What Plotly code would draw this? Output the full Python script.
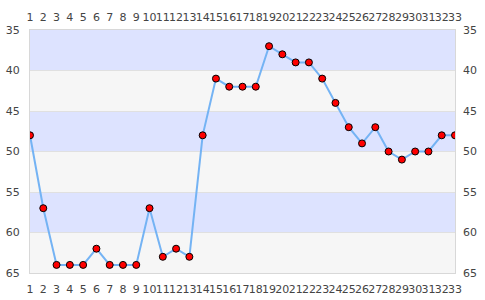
import plotly.graph_objects as go

x_vals = list(range(1, 34))
y_vals = [48, 57, 64, 64, 64, 62, 64, 64, 64, 57, 63, 62, 63, 48, 41, 42, 42, 42,
          37, 38, 39, 39, 41, 44, 47, 49, 47, 50, 51, 50, 50, 48, 48]
y_ticks = [35, 40, 45, 50, 55, 60, 65]
band_edges = [(35, 40, "#dde3ff"), (40, 45, "#f6f6f6"), (45, 50, "#dde3ff"),
              (50, 55, "#f6f6f6"), (55, 60, "#dde3ff"), (60, 65, "#f6f6f6")]

fig = go.Figure()
fig.add_trace(go.Scatter(
    x=x_vals, y=y_vals, mode="lines+markers",
    line=dict(color="#74b3f4", width=2),
    marker=dict(color="#ff0000", size=7, line=dict(color="#000000", width=1)),
    cliponaxis=True, showlegend=False, hoverinfo="skip"))
fig.add_trace(go.Scatter(x=[1, 33], y=[35, 65], xaxis="x2", yaxis="y2",
                         mode="markers", marker=dict(opacity=0), showlegend=False,
                         hoverinfo="skip"))

for lo, hi, col in band_edges:
    fig.add_shape(type="rect", xref="paper", yref="y", x0=0, x1=1, y0=lo, y1=hi,
                  fillcolor=col, line=dict(width=0), layer="below")

font = dict(family="DejaVu Sans", size=11, color="#444444")
xcommon = dict(range=[1, 33], tickmode="array", tickvals=x_vals,
               ticktext=[str(v) for v in x_vals], tickfont=font, showgrid=False,
               zeroline=False, ticks="", ticklen=0, tickangle=0, automargin=False,
               ticklabelstandoff=6)
ycommon = dict(range=[65, 35], tickmode="array", tickvals=y_ticks,
               ticktext=[str(v) for v in y_ticks], tickfont=font, zeroline=False,
               ticks="", ticklen=0, automargin=False, ticklabelstandoff=7)

fig.update_layout(
    width=485, height=300,
    margin=dict(l=30, r=30, t=30, b=27),
    paper_bgcolor="white", plot_bgcolor="white",
    xaxis=dict(**xcommon, side="bottom", showline=True, linecolor="#d8d8d8", mirror=True),
    xaxis2=dict(**xcommon, side="top", overlaying="x", showline=False),
    yaxis=dict(**ycommon, side="left", showgrid=True, gridcolor="#e0e0e0",
               showline=True, linecolor="#d8d8d8", mirror=True),
    yaxis2=dict(**ycommon, side="right", overlaying="y", showgrid=False, showline=False),
)
fig.write_html("out.html")
